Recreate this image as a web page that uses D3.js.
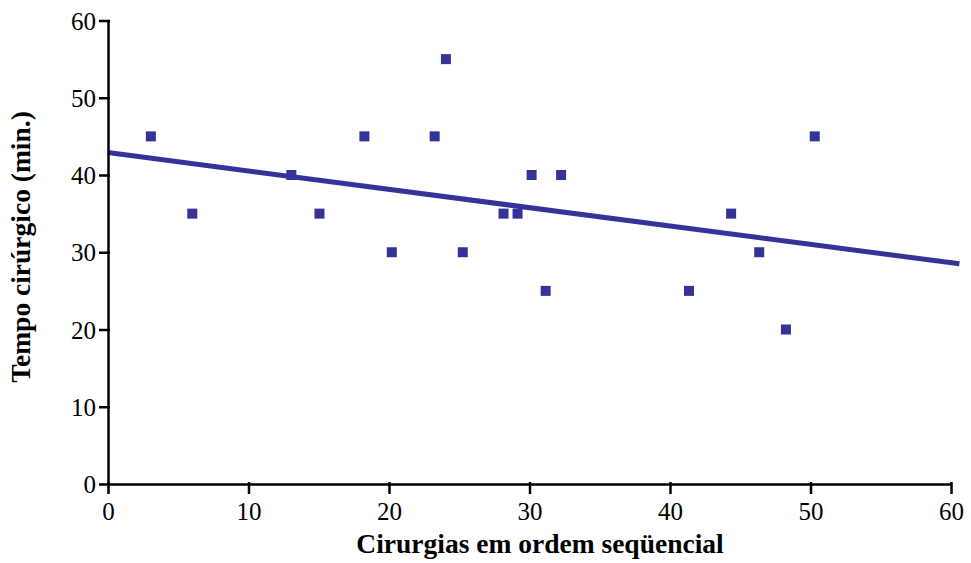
<!DOCTYPE html>
<html><head><meta charset="utf-8">
<script src="https://cdn.jsdelivr.net/npm/d3@7"></script>
<style>body{margin:0;background:#fff;} svg{display:block;} text{font-family:"Liberation Serif","Times New Roman",serif;}</style>
</head><body>
<svg id="c" width="971" height="563"></svg>
<script>
const surgeryX = [3.05, 6, 13.05, 15.05, 18.25, 20.2, 23.25, 24.05, 25.25, 28.15, 29.15, 30.15, 31.15, 32.25, 41.35, 44.35, 46.35, 48.25, 50.3];
const timeY    = [45, 35, 40, 35, 45, 30, 45, 55, 30, 35, 35, 40, 25, 40, 25, 35, 30, 20, 45];
const trendX = [0, 60.6];
const trendY = [42.9, 28.5];
const xTicks = [0, 10, 20, 30, 40, 50, 60];
const yTicks = [0, 10, 20, 30, 40, 50, 60];
const xTitle = "Cirurgias em ordem seqüencial";
const yTitle = "Tempo cirúrgico (min.)";

const svg = d3.select("#c");
const font = '"Liberation Serif","Times New Roman",serif';
const x = d3.scaleLinear().domain([0, 60]).range([108, 951]);
const y = d3.scaleLinear().domain([0, 60]).range([484, 20.5]);
const color = "#333399";

// trend line
svg.append("line")
  .attr("x1", x(trendX[0])).attr("y1", y(trendY[0]))
  .attr("x2", x(trendX[1])).attr("y2", y(trendY[1]))
  .attr("stroke", color).attr("stroke-width", 5);

// points
svg.selectAll("rect.pt").data(surgeryX.map((d,i)=>[d,timeY[i]])).enter()
  .append("rect").attr("class","pt")
  .attr("x", d => x(d[0]) - 5).attr("y", d => y(d[1]) - 5)
  .attr("width", 10).attr("height", 10).attr("fill", color);

// axes
const xAxis = svg.append("g").attr("transform", `translate(0,${y(0)})`)
  .call(d3.axisBottom(x).tickValues(xTicks).tickSize(10).tickPadding(6).tickSizeOuter(0));
const yAxis = svg.append("g").attr("transform", `translate(${x(0)},0)`)
  .call(d3.axisLeft(y).tickValues(yTicks).tickSize(9).tickPadding(3).tickSizeOuter(0));
[xAxis, yAxis].forEach(g => {
  g.attr("font-family", font).attr("font-size", 25);
  g.select(".domain").attr("stroke", "#000").attr("stroke-width", 2.5);
  g.selectAll(".tick line").attr("stroke", "#000").attr("stroke-width", 2.5);
  g.selectAll(".tick text").attr("font-family", font).style("font-size", "25px").attr("fill", "#000");
});
xAxis.selectAll(".tick line").attr("y1", -2);
xAxis.selectAll(".tick text").attr("y", 36).attr("dy", 0);
yAxis.selectAll(".tick line").attr("x1", 2);
yAxis.selectAll(".tick text").attr("dy", "0.34em");

// titles
svg.append("text").attr("x", 540).attr("y", 553).attr("text-anchor", "middle")
  .attr("font-family", font).style("font-weight", "bold").style("font-size", "27.5px").text(xTitle);
svg.append("text").attr("transform", "translate(30,247) rotate(-90)").attr("text-anchor", "middle")
  .attr("font-family", font).style("font-weight", "bold").style("font-size", "27.5px").text(yTitle);
</script>
</body></html>
